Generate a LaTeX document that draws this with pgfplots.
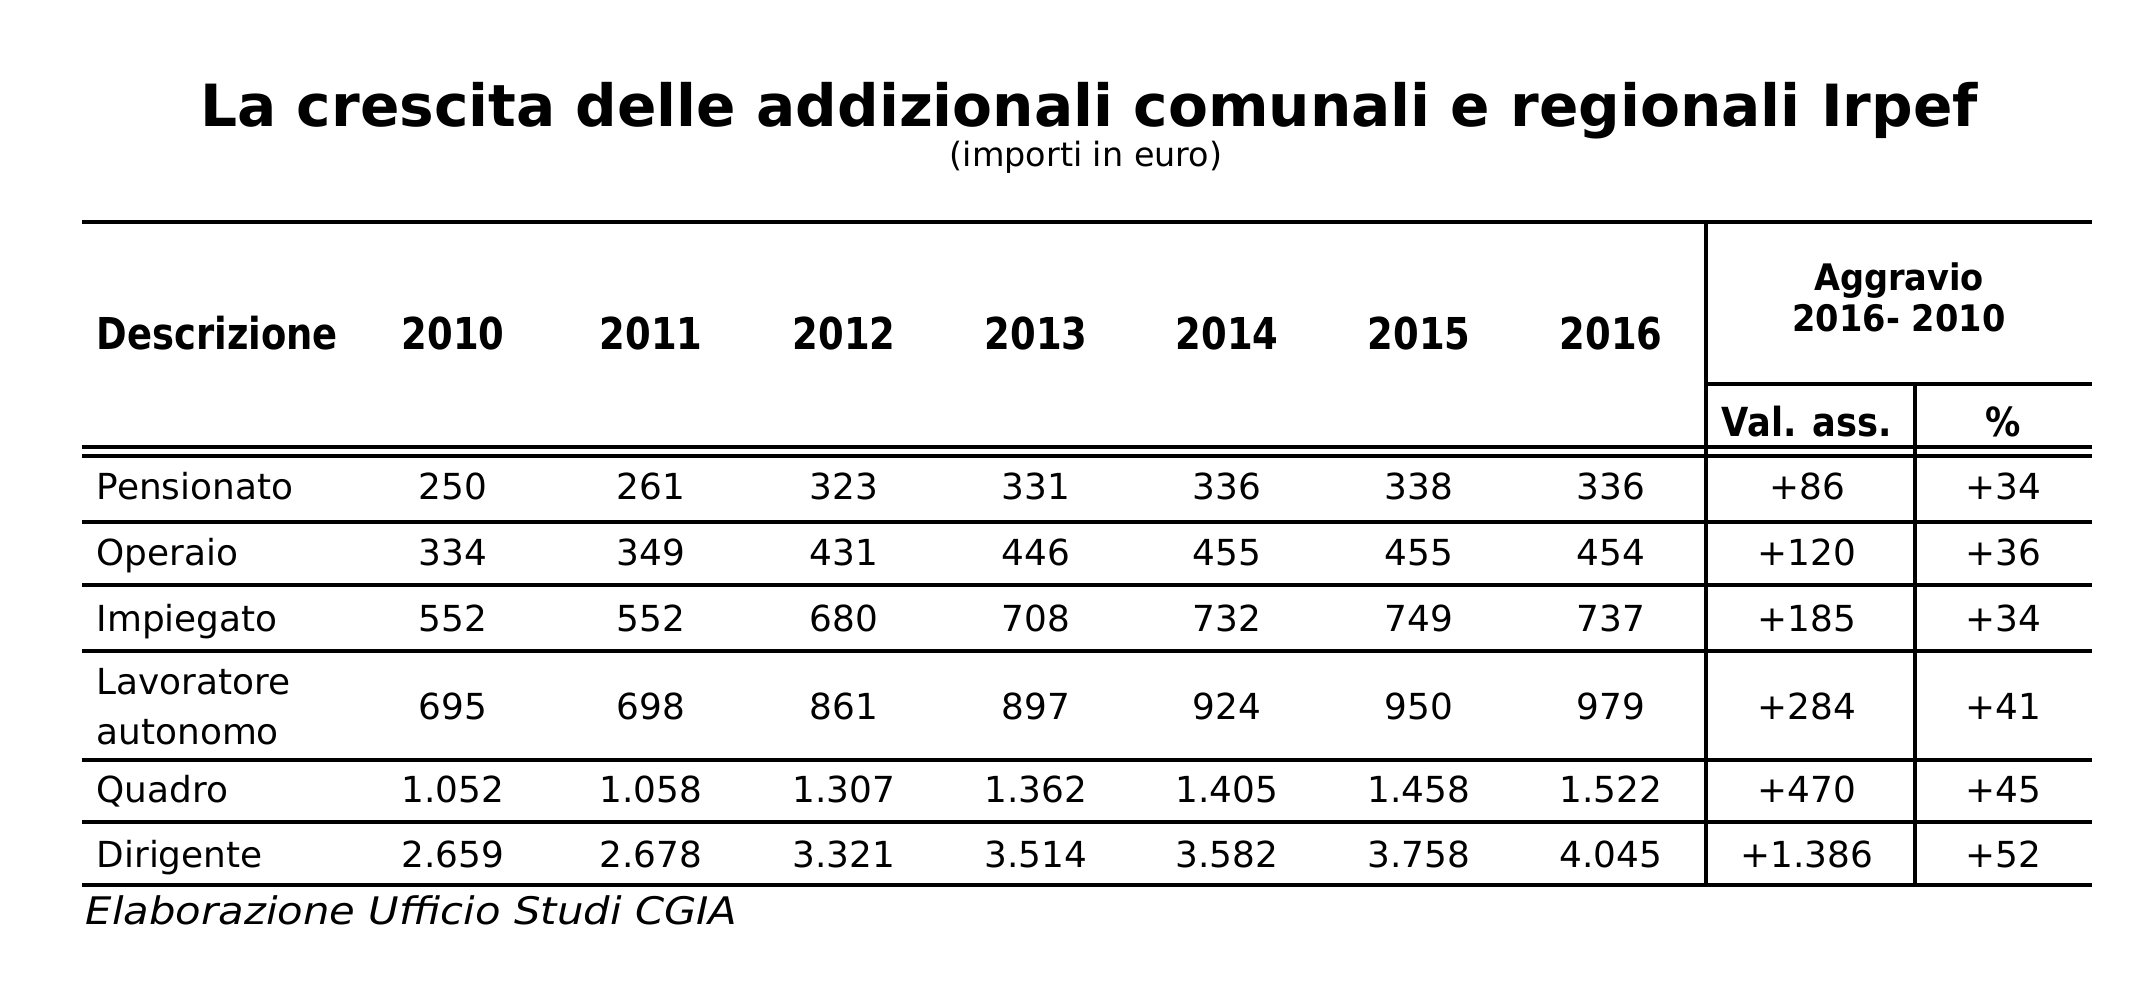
\documentclass[border=0pt]{standalone}
\usepackage{pgfplots}
\pgfplotsset{compat=1.18}
\usepackage{pgfplotstable}
\usepackage{fontspec}
\setmainfont{DejaVu Sans}
\newfontfamily\titlefont{DejaVu Sans Bold}
\newfontfamily\hdrfont[FakeStretch=0.84]{DejaVu Sans Bold}
\newfontfamily\aggfont[FakeStretch=0.92]{DejaVu Sans Bold}
\newfontfamily\valfont[FakeStretch=0.88]{DejaVu Sans Bold}
\newfontfamily\datafont{DejaVu Sans}
\newfontfamily\footfont[FakeStretch=1.1]{DejaVu Sans Oblique}

\tikzset{
  hdr/.style={anchor=base, inner sep=0pt, font=\hdrfont\fontsize{12.5}{14}\selectfont},
  rule/.style={line width=1.4pt},
}

\pgfplotstableread{
name y a b c d e f g abs pct
Pensionato 500 250 261 323 331 336 338 336 +86 +34
Operaio 566 334 349 431 446 455 455 454 +120 +36
Impiegato 632 552 552 680 708 732 749 737 +185 +34
Lavoratore 720 695 698 861 897 924 950 979 +284 +41
Quadro 803 1.052 1.058 1.307 1.362 1.405 1.458 1.522 +470 +45
Dirigente 868 2.659 2.678 3.321 3.514 3.582 3.758 4.045 +1.386 +52
}\datatable

\pgfplotstableread{
name y
Pensionato 500
Operaio 566
Impiegato 632
Lavoratore 695
autonomo 745
Quadro 803
Dirigente 868
}\nametable

\begin{document}
\begin{tikzpicture}
\begin{axis}[
  scale only axis, width=21.47cm, height=9.9cm,
  xmin=0, xmax=2147, ymin=0, ymax=990, y dir=reverse,
  hide axis, clip=false,
  cell/.style={only marks, mark=*, mark size=0pt,
    mark options={draw=none, fill=none}, color=black,
    point meta=explicit symbolic,
    nodes near coords={\pgfplotspointmeta},
    nodes near coords style={anchor=base, inner sep=0pt, text=black,
      font=\datafont\fontsize{10.2}{12}\selectfont}},
  namecell/.style={cell, nodes near coords style={anchor=base west}},
]
\path (axis cs:0,0) rectangle (axis cs:2147,990);

% data
\addplot[namecell] table[x expr=96, y=y, meta=name]{\nametable};
\addplot[cell] table[x expr=453, y=y, meta=a]{\datatable};
\addplot[cell] table[x expr=651, y=y, meta=b]{\datatable};
\addplot[cell] table[x expr=844, y=y, meta=c]{\datatable};
\addplot[cell] table[x expr=1036, y=y, meta=d]{\datatable};
\addplot[cell] table[x expr=1227, y=y, meta=e]{\datatable};
\addplot[cell] table[x expr=1419, y=y, meta=f]{\datatable};
\addplot[cell] table[x expr=1611, y=y, meta=g]{\datatable};
\addplot[cell] table[x expr=1807, y=y, meta=abs]{\datatable};
\addplot[cell] table[x expr=2003, y=y, meta=pct]{\datatable};

% rules
\draw[rule] (axis cs:82,222) -- (axis cs:2092,222);
\draw[line width=1.15pt] (axis cs:82,447) -- (axis cs:2092,447);
\draw[line width=1.15pt] (axis cs:82,456) -- (axis cs:2092,456);
\draw[rule] (axis cs:82,522) -- (axis cs:2092,522);
\draw[rule] (axis cs:82,585) -- (axis cs:2092,585);
\draw[rule] (axis cs:82,651) -- (axis cs:2092,651);
\draw[rule] (axis cs:82,760) -- (axis cs:2092,760);
\draw[rule] (axis cs:82,822) -- (axis cs:2092,822);
\draw[rule] (axis cs:82,885) -- (axis cs:2092,885);
\draw[rule] (axis cs:1706,384) -- (axis cs:2092,384);
\draw[line width=1.0pt] (axis cs:1706,222) -- (axis cs:1706,885);
\draw[line width=1.0pt] (axis cs:1915,384) -- (axis cs:1915,885);

% title
\node[anchor=base, inner sep=0pt, font=\titlefont\fontsize{16.55}{20}\selectfont]
  at (axis cs:1089,126) {La crescita delle addizionali comunali e regionali Irpef};
\node[anchor=base, inner sep=0pt, font=\datafont\fontsize{9.5}{11}\selectfont]
  at (axis cs:1086,166) {(importi in euro)};

% headers
\node[hdr, anchor=base west] at (axis cs:96,350) {Descrizione};
\node[hdr] at (axis cs:453,350) {2010};
\node[hdr] at (axis cs:651,350) {2011};
\node[hdr] at (axis cs:844,350) {2012};
\node[hdr] at (axis cs:1036,350) {2013};
\node[hdr] at (axis cs:1227,350) {2014};
\node[hdr] at (axis cs:1419,350) {2015};
\node[hdr] at (axis cs:1611,350) {2016};
\node[anchor=base, inner sep=0pt, font=\aggfont\fontsize{10.4}{12}\selectfont]
  at (axis cs:1899,291) {Aggravio};
\node[anchor=base, inner sep=0pt, font=\aggfont\fontsize{10.4}{12}\selectfont]
  at (axis cs:1899,332) {2016- 2010};
\node[anchor=base, inner sep=0pt, font=\valfont\fontsize{11.4}{13}\selectfont]
  at (axis cs:1807,437) {Val. ass.};
\node[anchor=base, inner sep=0pt, font=\valfont\fontsize{11.4}{13}\selectfont]
  at (axis cs:2003,437) {\%};

% footer
\node[anchor=base west, inner sep=0pt, font=\footfont\fontsize{10.8}{12}\selectfont]
  at (axis cs:85,925) {Elaborazione Ufficio Studi CGIA};
\end{axis}
\end{tikzpicture}
\end{document}
